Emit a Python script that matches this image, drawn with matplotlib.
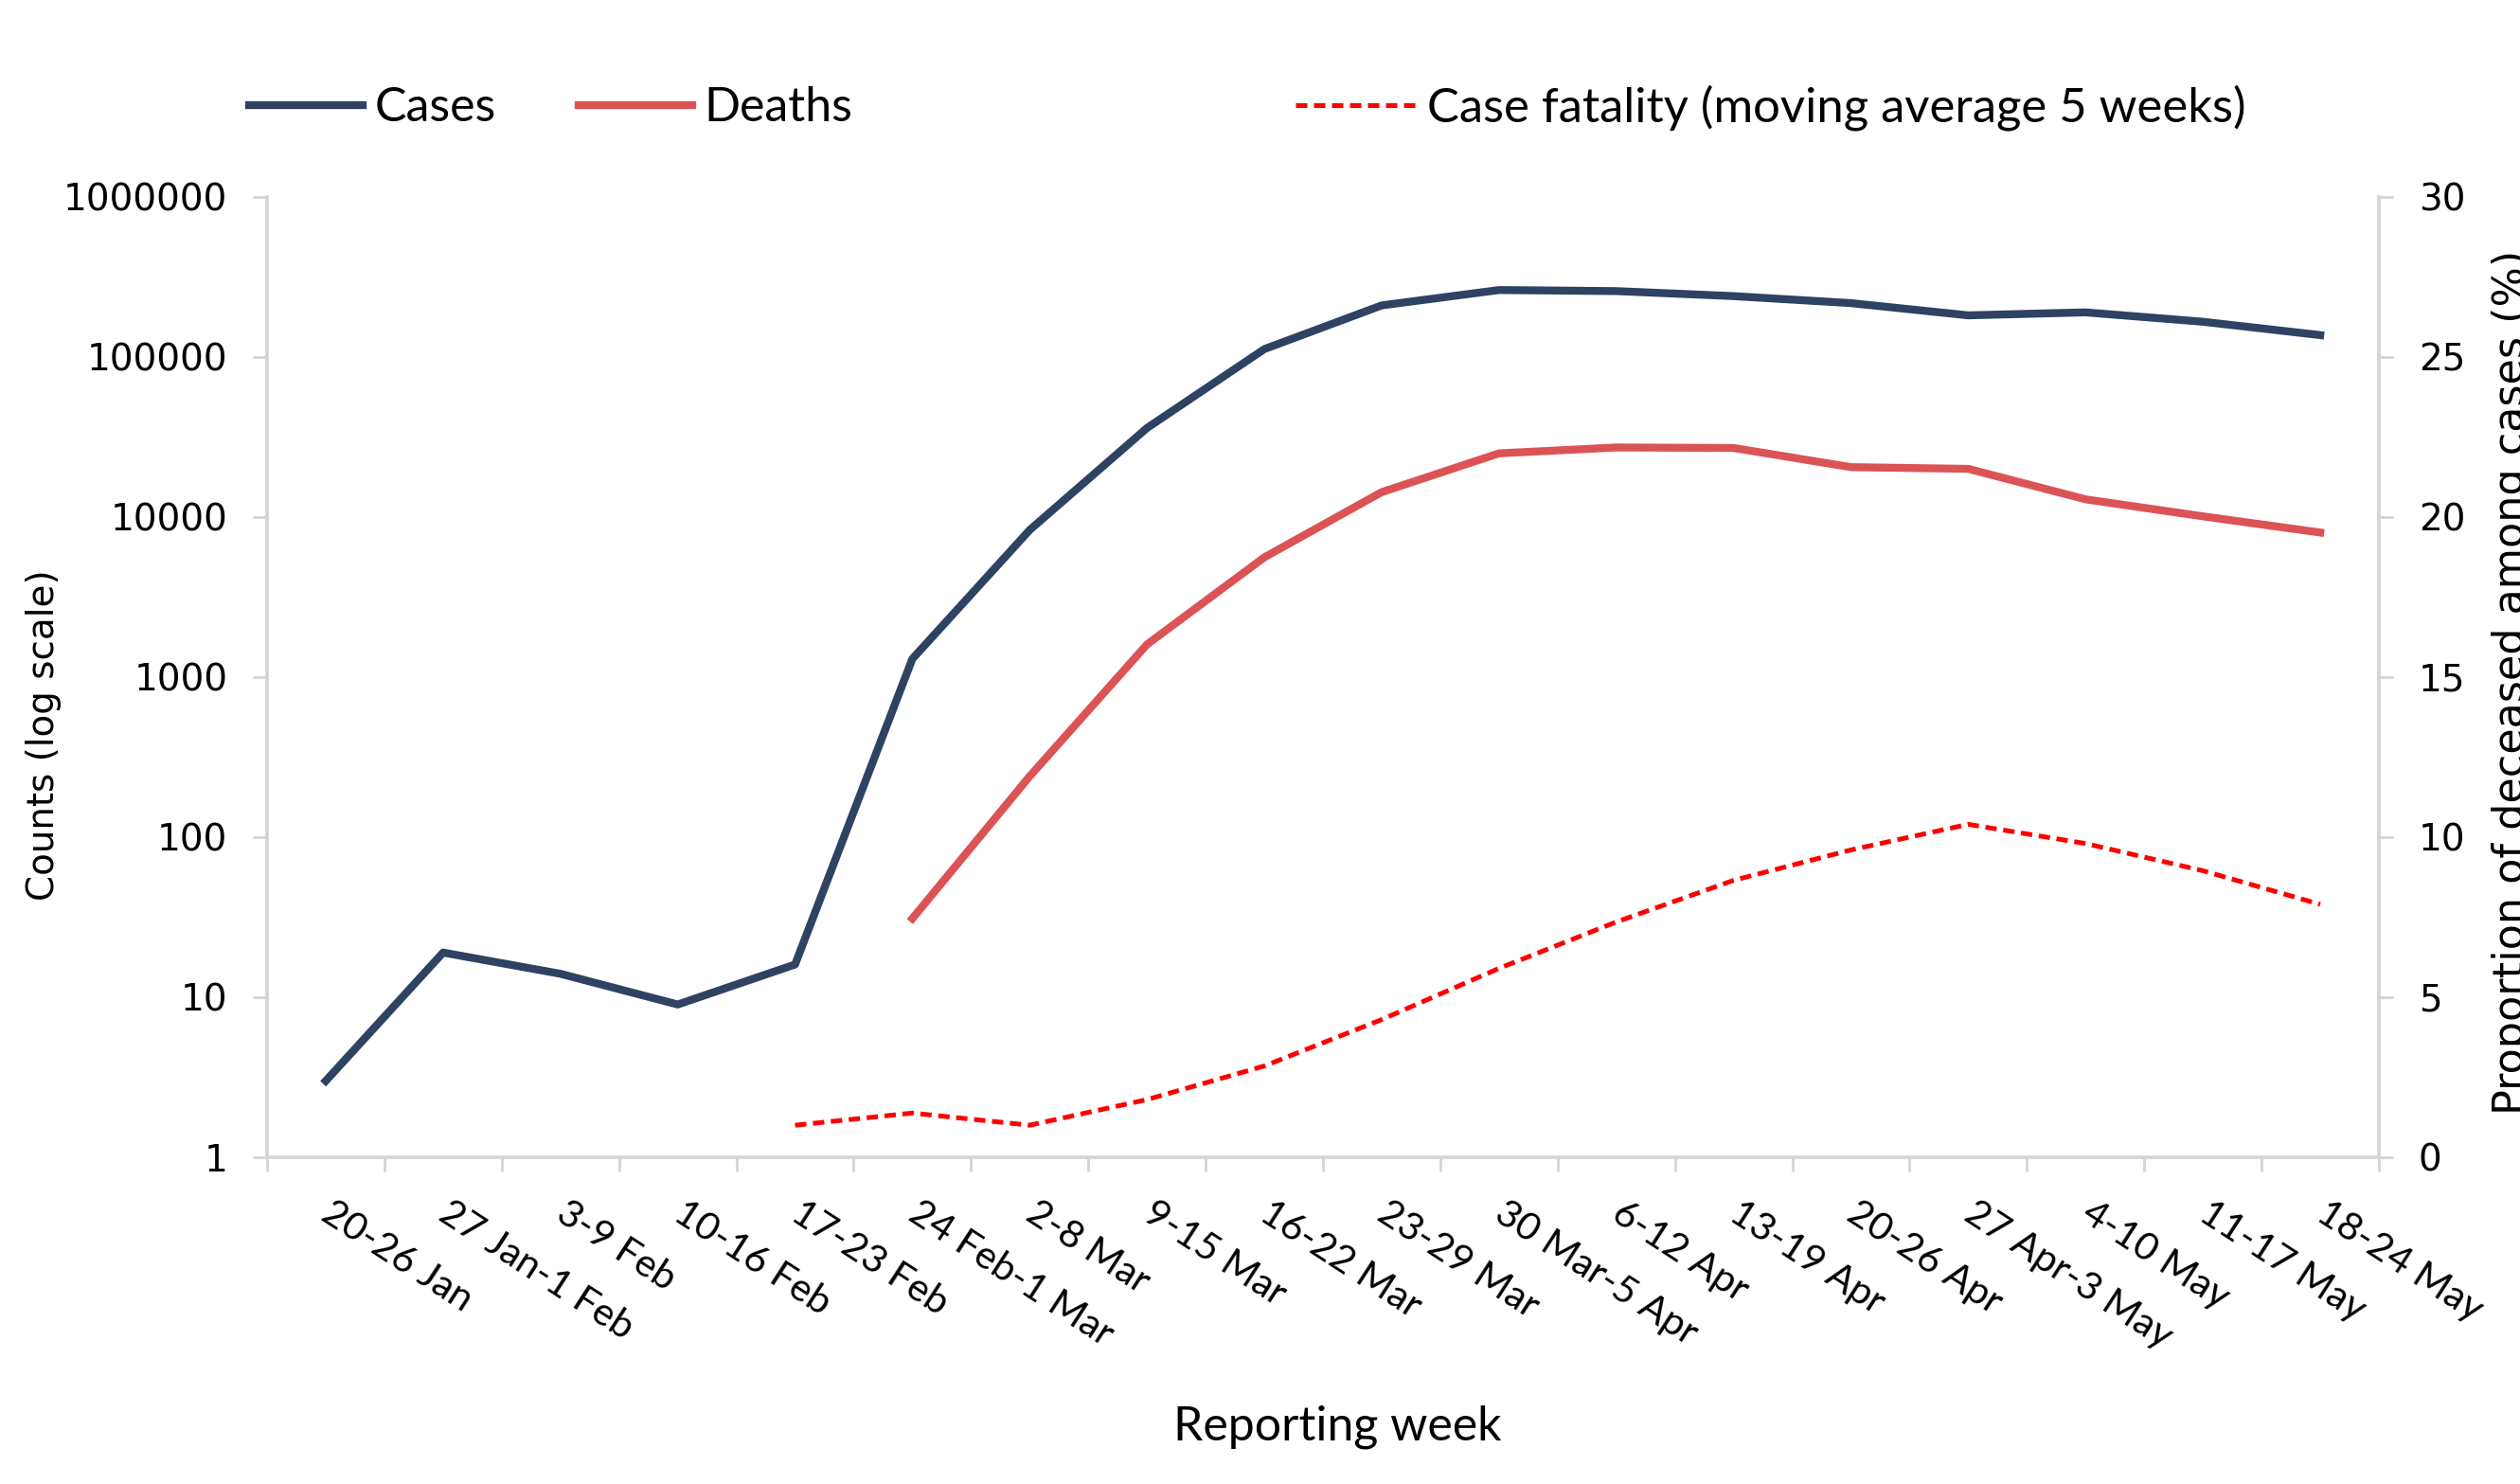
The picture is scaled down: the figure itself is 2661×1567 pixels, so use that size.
import matplotlib
matplotlib.use("Agg")
import matplotlib.pyplot as plt
from matplotlib.lines import Line2D
import numpy as np

weeks = [
    "20-26 Jan", "27 Jan-1 Feb", "3-9 Feb", "10-16 Feb", "17-23 Feb",
    "24 Feb-1 Mar", "2-8 Mar", "9-15 Mar", "16-22 Mar", "23-29 Mar",
    "30 Mar-5 Apr", "6-12 Apr", "13-19 Apr", "20-26 Apr", "27 Apr-3 May",
    "4-10 May", "11-17 May", "18-24 May",
]

cases = [3, 19, 14, 9, 16, 1300, 8300, 36000, 112000, 210000,
         262000, 258000, 240000, 217000, 182000, 190000, 166000, 137000]

# deaths start in week "24 Feb-1 Mar"
deaths = [None, None, None, None, None, 31, 240, 1600, 5600, 14300,
          25000, 27200, 27000, 20500, 20000, 12900, 10100, 8000]

# case fatality (%), moving average 5 weeks, starts in week "17-23 Feb"
cfr = [None, None, None, None, 1.0, 1.38, 1.0, 1.8, 2.85, 4.3,
       5.9, 7.35, 8.65, 9.6, 10.4, 9.8, 8.95, 7.9]

CASES_COL = "#2E4262"
DEATHS_COL = "#DC5356"
CFR_COL = "#FF0000"
AXIS_COL = "#D4D4D4"

LABEL_FONT = ["Lato", "DejaVu Sans"]
TICK_FONT = ["DejaVu Sans"]

x = np.arange(len(weeks))
deaths_arr = np.array([np.nan if v is None else v for v in deaths], dtype=float)
cfr_arr = np.array([np.nan if v is None else v for v in cfr], dtype=float)

fig = plt.figure(figsize=(26.61, 15.67), dpi=100)
ax = fig.add_axes([0.106, 0.2202, 0.838, 0.6471])
ax2 = ax.twinx()

ax.plot(x, cases, color=CASES_COL, lw=6, solid_joinstyle="round", zorder=3)
ax.plot(x, deaths_arr, color=DEATHS_COL, lw=6, solid_joinstyle="round", zorder=3)
ax2.plot(x, cfr_arr, color=CFR_COL, lw=3.6, dashes=(2.4, 1.4))

# left axis (log)
ax.set_yscale("log")
ax.set_ylim(1, 1e6)
yt = [1, 10, 100, 1000, 10000, 100000, 1000000]
ax.set_yticks(yt)
ax.set_yticklabels([str(v) for v in yt], fontsize=28, family=TICK_FONT)
ax.yaxis.set_minor_locator(matplotlib.ticker.NullLocator())

# right axis
ax2.set_ylim(0, 30)
ax2.set_yticks(range(0, 31, 5))
ax2.set_yticklabels([str(v) for v in range(0, 31, 5)], fontsize=28, family=TICK_FONT)

# x axis: week labels under each week, tick marks between weeks
ax.set_xlim(-0.5, len(weeks) - 0.5)
ax.set_xticks(x)
ax.set_xticklabels([])
ax.set_xticks(np.arange(-0.5, len(weeks)), minor=True)
ax.tick_params(axis="x", which="major", length=0)
ax.tick_params(axis="x", which="minor", length=11, width=2, color=AXIS_COL)
ax.tick_params(axis="y", length=11, width=2, color=AXIS_COL, pad=19)
ax2.tick_params(axis="y", length=11, width=2, color=AXIS_COL, pad=19)

for i, w in enumerate(weeks):
    ax.annotate(w, xy=(i, 0), xycoords=ax.get_xaxis_transform(),
                xytext=(7, -29), textcoords="offset points",
                rotation=-33, ha="left", va="top", rotation_mode="anchor",
                fontsize=29.5, family=LABEL_FONT, annotation_clip=False)

for a in (ax, ax2):
    a.spines["top"].set_visible(False)
    for s in ("left", "right", "bottom"):
        a.spines[s].set_color(AXIS_COL)
        a.spines[s].set_linewidth(2.6)
ax.spines["right"].set_visible(False)
ax2.spines["left"].set_visible(False)
ax2.spines["bottom"].set_visible(False)

# axis titles (the right one runs off the edge, as in the original)
fig.text(46 / 2661, 1 - 776 / 1567, "Counts (log scale)", rotation=90,
         ha="center", va="center", fontsize=28, family=TICK_FONT)
fig.text(2653 / 2661, 1 - 720 / 1567, "Proportion of deceased among cases (%)",
         rotation=90, ha="center", va="center", fontsize=32, family=TICK_FONT)
fig.text(1412 / 2661, 1 - 1507 / 1567, "Reporting week",
         ha="center", va="center", fontsize=36, family=LABEL_FONT)

# legends
h_cases = Line2D([], [], color=CASES_COL, lw=6)
h_deaths = Line2D([], [], color=DEATHS_COL, lw=6)
h_cfr = Line2D([], [], color=CFR_COL, lw=3.6, dashes=(2.4, 1.4))

leg_y = 1 - 114 / 1567
fig.legend([h_cases, h_deaths], ["Cases", "Deaths"], ncol=2,
           loc="center left", bbox_to_anchor=(263 / 2661, leg_y),
           frameon=False, borderpad=0, borderaxespad=0,
           handlelength=2.4, handletextpad=0.25, columnspacing=1.75,
           prop={"family": LABEL_FONT, "size": 36})
fig.legend([h_cfr], ["Case fatality (moving average 5 weeks)"],
           loc="center left", bbox_to_anchor=(1368 / 2661, leg_y),
           frameon=False, borderpad=0, borderaxespad=0,
           handlelength=2.5, handletextpad=0.25,
           prop={"family": LABEL_FONT, "size": 36.5})

fig.savefig("out.png", dpi=100)
plt.close(fig)
